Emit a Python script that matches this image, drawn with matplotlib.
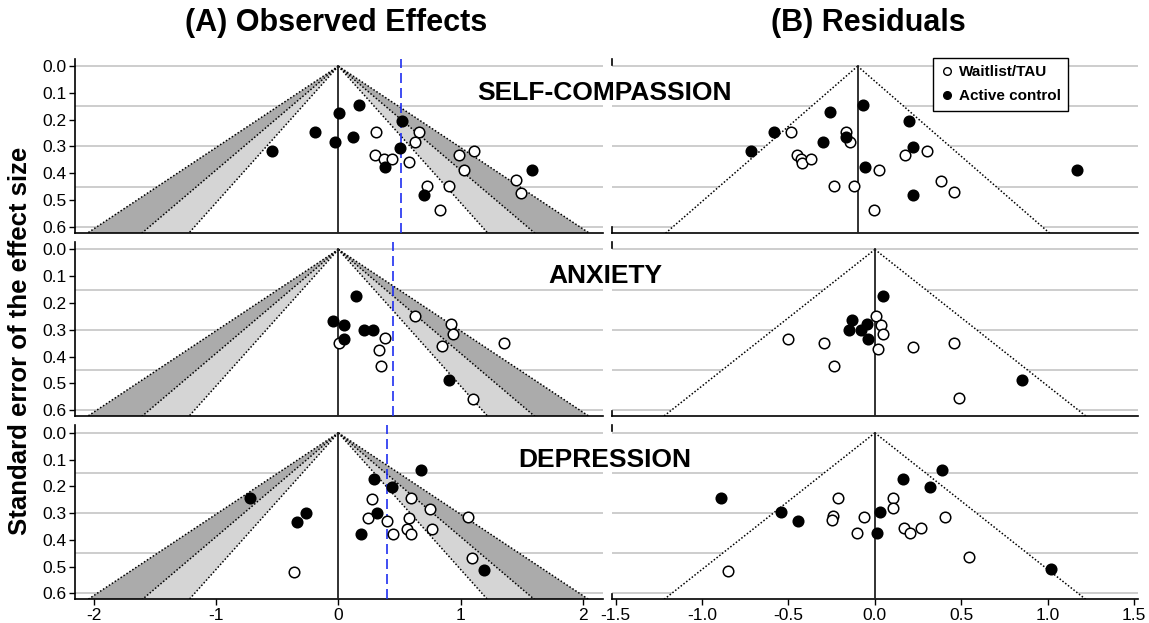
import numpy as np
import matplotlib.pyplot as plt
import matplotlib.transforms as mtransforms
from matplotlib.lines import Line2D

plt.rcParams['font.family'] = ['Liberation Sans', 'DejaVu Sans']

outcomes = ['SELF-COMPASSION', 'ANXIETY', 'DEPRESSION']
pooled = [0.515, 0.447, 0.395]          # blue dashed line, panel A
z_levels = [1.96, 2.576, 3.29]          # contour lines, panel A
res_center = [-0.10, 0.0, 0.0]          # funnel centre, panel B
res_z = [1.78, 1.96, 1.96]
se_grid = [0.0, 0.15, 0.3, 0.45, 0.6]

# ---- (A) observed effects ----
# self-compassion
sc_wl_es = [0.308, 0.297, 0.371, 0.442, 0.575, 0.657, 0.630, 0.725, 0.902, 0.834,
            0.987, 1.112, 1.025, 1.450, 1.494]
sc_wl_se = [0.246, 0.333, 0.346, 0.346, 0.358, 0.245, 0.285, 0.447, 0.448, 0.539,
            0.332, 0.318, 0.389, 0.427, 0.474]
sc_ac_es = [-0.540, -0.194, 0.008, -0.025, 0.166, 0.123, 0.384, 0.523, 0.501, 0.700, 1.586]
sc_ac_se = [0.318, 0.245, 0.175, 0.284, 0.144, 0.266, 0.377, 0.204, 0.305, 0.481, 0.389]
# anxiety
ax_wl_es = [0.008, 0.382, 0.335, 0.346, 0.630, 0.921, 0.935, 0.848, 1.355, 1.104]
ax_wl_se = [0.351, 0.332, 0.374, 0.435, 0.247, 0.279, 0.317, 0.361, 0.348, 0.558]
ax_ac_es = [0.144, -0.041, 0.049, 0.049, 0.213, 0.281, 0.902]
ax_ac_se = [0.174, 0.267, 0.281, 0.333, 0.301, 0.301, 0.489]
# depression
dp_wl_es = [-0.360, 0.278, 0.245, 0.395, 0.449, 0.594, 0.749, 0.580, 0.558, 0.594,
            0.766, 1.057, 1.090]
dp_wl_se = [0.519, 0.247, 0.318, 0.329, 0.376, 0.245, 0.283, 0.318, 0.359, 0.376,
            0.360, 0.316, 0.466]
dp_ac_es = [-0.721, -0.267, -0.335, 0.292, 0.439, 0.313, 0.185, 0.673, 1.193]
dp_ac_se = [0.245, 0.298, 0.333, 0.173, 0.202, 0.298, 0.376, 0.139, 0.513]

# ---- (B) residuals ----
sc_wl_res = [-0.487, -0.170, -0.145, -0.450, -0.425, -0.419, -0.368, -0.235, -0.119, 0.025,
             -0.006, 0.176, 0.299, 0.380, 0.460]
sc_wl_rse = [0.247, 0.244, 0.285, 0.331, 0.346, 0.362, 0.346, 0.447, 0.447, 0.389,
             0.539, 0.333, 0.316, 0.429, 0.471]
sc_ac_res = [-0.716, -0.581, -0.262, -0.301, -0.070, -0.168, -0.059, 0.200, 0.223, 0.221, 1.166]
sc_ac_rse = [0.316, 0.247, 0.173, 0.283, 0.145, 0.265, 0.375, 0.203, 0.302, 0.482, 0.389]

ax_wl_res = [0.006, 0.035, 0.047, 0.020, -0.501, -0.297, -0.235, 0.221, 0.456, 0.485]
ax_wl_rse = [0.248, 0.281, 0.314, 0.373, 0.335, 0.348, 0.435, 0.363, 0.348, 0.556]
ax_ac_res = [0.045, -0.133, -0.045, -0.041, -0.147, -0.082, 0.851]
ax_ac_rse = [0.175, 0.264, 0.279, 0.335, 0.301, 0.300, 0.489]

dp_wl_res = [-0.849, -0.211, -0.241, -0.249, -0.065, -0.102, 0.102, 0.106, 0.170, 0.204,
             0.266, 0.403, 0.542]
dp_wl_rse = [0.517, 0.244, 0.312, 0.327, 0.315, 0.374, 0.244, 0.281, 0.356, 0.374,
             0.356, 0.315, 0.463]
dp_ac_res = [-0.890, -0.542, -0.446, 0.164, 0.389, 0.321, 0.031, 0.010, 1.016]
dp_ac_rse = [0.244, 0.297, 0.328, 0.171, 0.139, 0.201, 0.297, 0.374, 0.508]

observed = [(sc_wl_es, sc_wl_se, sc_ac_es, sc_ac_se),
            (ax_wl_es, ax_wl_se, ax_ac_es, ax_ac_se),
            (dp_wl_es, dp_wl_se, dp_ac_es, dp_ac_se)]
residual = [(sc_wl_res, sc_wl_rse, sc_ac_res, sc_ac_rse),
            (ax_wl_res, ax_wl_rse, ax_ac_res, ax_ac_rse),
            (dp_wl_res, dp_wl_rse, dp_ac_res, dp_ac_rse)]

YLIM = (0.622, -0.028)
SEMAX = 0.8
MS = 7.6
tick_font = dict(size=12.5)


def points(ax, wl_x, wl_y, ac_x, ac_y):
    ax.plot(wl_x, wl_y, 'o', ms=MS, mfc='white', mec='black', mew=1.1, zorder=5)
    ax.plot(ac_x, ac_y, 'o', ms=MS, mfc='black', mec='black', mew=1.1, zorder=5)


def base(ax):
    ax.set_ylim(*YLIM)
    for g in se_grid:
        ax.axhline(g, color='#c9c9c9', lw=1.3, zorder=0)
    ax.spines['top'].set_visible(False)
    ax.spines['right'].set_visible(False)
    ax.spines['bottom'].set_linewidth(1.2)
    ax.spines['left'].set_linewidth(1.2)


fig = plt.figure(figsize=(11.49, 6.23), dpi=100)
bottoms = [0.6265, 0.3323, 0.0379]
height = 0.2793

for i in range(3):
    # panel A
    a = fig.add_axes([0.0653, bottoms[i], 0.4598, height])
    base(a)
    a.set_xlim(-2.153, 2.167)
    shades = ['#ababab', '#d5d5d5', 'white']
    for z, c in zip(z_levels[::-1], shades):
        a.fill([-z * SEMAX, 0, z * SEMAX], [SEMAX, 0, SEMAX], color=c, lw=0, zorder=1)
    for z in z_levels:
        for s in (-1, 1):
            a.plot([0, s * z * SEMAX], [0, SEMAX], color='black', lw=1.1,
                   ls=(0, (1, 1.3)), zorder=2)
    a.plot([0, 0], [0, SEMAX], color='#222222', lw=1.3, zorder=3)
    a.axvline(pooled[i], color='#1f2ff0', lw=1.2, ls=(0, (6, 3)), zorder=3)
    points(a, *observed[i])
    a.set_yticks([0.0, 0.1, 0.2, 0.3, 0.4, 0.5, 0.6])
    a.set_yticklabels(['%.1f' % v for v in [0.0, 0.1, 0.2, 0.3, 0.4, 0.5, 0.6]], **tick_font)
    a.tick_params(axis='y', length=4, width=1.0, pad=2)
    a.set_xticks([-2, -1, 0, 1, 2])
    if i == 2:
        a.set_xticklabels(['-2', '-1', '0', '1', '2'], **tick_font)
        a.tick_params(axis='x', length=4, width=1.0, pad=2)
    else:
        a.tick_params(axis='x', length=0, labelbottom=False)

    # outcome label, centred between the two columns at se = 0.1
    tr = mtransforms.blended_transform_factory(fig.transFigure, a.transData)
    fig.text(0.5265, 0.1, outcomes[i], transform=tr, ha='center', va='center',
             fontsize=19, fontweight='bold', zorder=10)

    # panel B
    b = fig.add_axes([0.5324, bottoms[i], 0.4578, height])
    base(b)
    b.spines['left'].set_visible(False)
    b.set_xlim(-1.522, 1.52)
    c0, zr = res_center[i], res_z[i]
    b.fill([c0 - zr * SEMAX, c0, c0 + zr * SEMAX], [SEMAX, 0, SEMAX], color='white', lw=0, zorder=1)
    for s in (-1, 1):
        b.plot([c0, c0 + s * zr * SEMAX], [0, SEMAX], color='black', lw=1.1,
               ls=(0, (1, 1.3)), zorder=2)
    b.plot([c0, c0], [0, SEMAX], color='#222222', lw=1.3, zorder=3)
    # fragments of the left axis line at both ends
    b.plot([-1.522, -1.522], [-0.028, -0.006], color='black', lw=1.2, clip_on=False)
    b.plot([-1.522, -1.522], [0.602, 0.622], color='black', lw=1.2, clip_on=False)
    points(b, *residual[i])
    b.set_yticks([])
    b.set_xticks([-1.5, -1.0, -0.5, 0.0, 0.5, 1.0, 1.5])
    if i == 2:
        b.set_xticklabels(['%.1f' % v for v in [-1.5, -1.0, -0.5, 0.0, 0.5, 1.0, 1.5]], **tick_font)
        b.tick_params(axis='x', length=4, width=1.0, pad=2)
    else:
        b.tick_params(axis='x', length=0, labelbottom=False)

    if i == 0:
        handles = [Line2D([], [], ls='none', marker='o', ms=5.5, mfc='white', mec='black', mew=1.0),
                   Line2D([], [], ls='none', marker='o', ms=5.5, mfc='black', mec='black')]
        leg = b.legend(handles, ['Waitlist/TAU', 'Active control'], loc='upper left',
                       bbox_to_anchor=(0.61, 1.005), frameon=True, fancybox=False,
                       prop=dict(size=11, weight='bold'), handletextpad=0.3,
                       handlelength=0.9, borderpad=0.5, labelspacing=0.65,
                       borderaxespad=0, framealpha=1)
        leg.get_frame().set_edgecolor('black')
        leg.get_frame().set_linewidth(1.0)
        leg.set_zorder(20)

fig.text(336 / 1149, 0.963, '(A) Observed Effects', ha='center', va='center',
         fontsize=22, fontweight='bold')
fig.text(868 / 1149, 0.963, '(B) Residuals', ha='center', va='center',
         fontsize=22, fontweight='bold')
fig.text(0.017, 0.453, 'Standard error of the effect size', rotation=90,
         ha='center', va='center', fontsize=18.5, fontweight='bold')

fig.savefig('out.png', dpi=100)
